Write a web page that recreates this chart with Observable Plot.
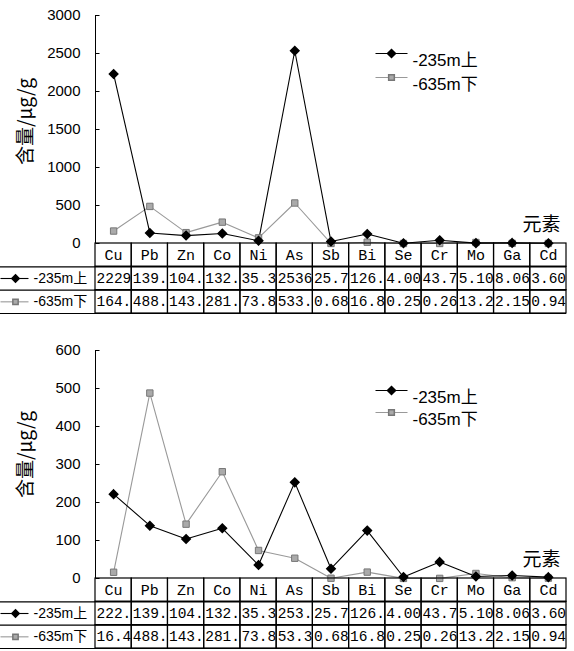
<!DOCTYPE html>
<html>
<head>
<meta charset="utf-8">
<script src="https://cdn.jsdelivr.net/npm/d3@7"></script>
<script src="https://cdn.jsdelivr.net/npm/@observablehq/plot@0.6"></script>
<style>
  html, body { margin: 0; padding: 0; background: #fff; }
  #wrap { width: 574px; height: 651px; overflow: hidden; }
  #wrap svg { display: block; }
</style>
</head>
<body>
<div id="wrap"></div>
<script>
// ---------- data ----------
const elements = ["Cu","Pb","Zn","Co","Ni","As","Sb","Bi","Se","Cr","Mo","Ga","Cd"];
const seriesNames = ["-235m上", "-635m下"];

const top235 = [2229, 139, 104, 132, 35.3, 2536, 25.7, 126, 4.00, 43.7, 5.10, 8.06, 3.60];
const top635 = [164, 488, 143, 281, 73.8, 533, 0.68, 16.8, 0.25, 0.26, 13.2, 2.15, 0.94];
const top235Labels = ["2229","139.","104.","132.","35.3","2536","25.7","126.","4.00","43.7","5.10","8.06","3.60"];
const top635Labels = ["164.","488.","143.","281.","73.8","533.","0.68","16.8","0.25","0.26","13.2","2.15","0.94"];
const topTicks = [0, 500, 1000, 1500, 2000, 2500, 3000];

const bot235 = [222, 139, 104, 132, 35.3, 253, 25.7, 126, 4.00, 43.7, 5.10, 8.06, 3.60];
const bot635 = [16.4, 488, 143, 281, 73.8, 53.3, 0.68, 16.8, 0.25, 0.26, 13.2, 2.15, 0.94];
const bot235Labels = ["222.","139.","104.","132.","35.3","253.","25.7","126.","4.00","43.7","5.10","8.06","3.60"];
const bot635Labels = ["16.4","488.","143.","281.","73.8","53.3","0.68","16.8","0.25","0.26","13.2","2.15","0.94"];
const botTicks = [0, 100, 200, 300, 400, 500, 600];

const yTitle = "含量/μg/g";
const xTitle = "元素";

// ---------- styles ----------
const W = 574, ML = 95, MR = 8;
const colA = "#000", colB = "#999";
const cjk = "'Liberation Sans', 'Noto Sans CJK SC', sans-serif";
const cjkTitle = "'Noto Sans CJK SC', sans-serif";
const mono = "'Liberation Mono', 'Noto Sans CJK SC', monospace";
const xDomain = [-0.5, elements.length - 0.5];
const cellW = (W - ML - MR) / elements.length;
const tableDomain = [xDomain[0] - ML / cellW, xDomain[1]];
const lineSym = { draw(ctx) { ctx.moveTo(-16, 0); ctx.lineTo(16, 0); } };
const rowSym = { draw(ctx) { ctx.moveTo(-14, 0); ctx.lineTo(14, 0); } };
const tickSym = { draw(ctx) { ctx.moveTo(0, 0); ctx.lineTo(4, 0); } };

const wrap = document.getElementById("wrap");

function legendItem(name, color, isA, dy) {
  return [
    Plot.dot([name], {frameAnchor: "top-left", dx: 296, dy, symbol: lineSym, stroke: color, fill: "none", strokeWidth: 1.1}),
    isA
      ? Plot.dot([name], {frameAnchor: "top-left", dx: 296, dy, symbol: "diamond2", r: 3.6, fill: colA, stroke: colA})
      : Plot.dot([name], {frameAnchor: "top-left", dx: 296, dy, symbol: "square", r: 3.2, fill: "#aaa", stroke: "#777"}),
    Plot.text([name], {frameAnchor: "top-left", dx: 317, dy, text: d => d, textAnchor: "start", fontSize: 17, fontFamily: cjk, fill: "#000"})
  ];
}

function chart({a, b, ticks, height, marginTop, legDy1, legDy2, titleDy}) {
  const rows = elements.map((e, i) => ({i, e, a: a[i], b: b[i]}));
  return Plot.plot({
    width: W, height, marginTop, marginBottom: 0, marginLeft: ML, marginRight: MR,
    style: {background: "transparent", overflow: "visible"},
    x: {domain: xDomain, axis: null},
    y: {domain: [ticks[0], ticks[ticks.length - 1]], axis: null},
    marks: [
      Plot.ruleX([xDomain[0]], {stroke: "#000", strokeWidth: 1}),
      Plot.axisY(ticks, {tickSize: 0, tickPadding: 15, tickFormat: d => String(d), fontSize: 15, fontFamily: cjk, fill: "#000", label: null}),
      Plot.dot(ticks, {x: () => xDomain[0], y: d => d, symbol: tickSym, stroke: "#000", fill: "none", strokeWidth: 1}),
      Plot.text([yTitle], {frameAnchor: "left", rotate: -90, dx: -70, dy: titleDy, textAnchor: "middle", fontSize: 19, fontFamily: cjkTitle, fill: "#000"}),
      Plot.lineY(rows, {x: "i", y: "b", stroke: colB, strokeWidth: 1.1}),
      Plot.lineY(rows, {x: "i", y: "a", stroke: colA, strokeWidth: 1.1}),
      Plot.dot(rows, {x: "i", y: "b", symbol: "square", r: 3.6, fill: "#aaa", stroke: "#777", strokeWidth: 1}),
      Plot.dot(rows, {x: "i", y: "a", symbol: "diamond2", r: 3.8, fill: colA, stroke: colA}),
      ...legendItem(seriesNames[0], colA, true, legDy1),
      ...legendItem(seriesNames[1], colB, false, legDy2),
      Plot.text([xTitle], {frameAnchor: "bottom-right", dx: -6, dy: -13, fontSize: 19, fontFamily: cjk, fill: "#000", textAnchor: "end"})
    ]
  });
}

function table({aLabels, bLabels}) {
  const cells = [];
  elements.forEach((e, i) => {
    cells.push({i, r: 0, t: e});
    cells.push({i, r: 1, t: aLabels[i]});
    cells.push({i, r: 2, t: bLabels[i]});
  });
  const rowA = [{r: 1, name: seriesNames[0]}];
  const rowB = [{r: 2, name: seriesNames[1]}];
  return Plot.plot({
    width: W, height: 70, marginTop: 0, marginBottom: 0, marginLeft: 0, marginRight: MR,
    style: {background: "transparent", overflow: "visible"},
    x: {domain: tableDomain, axis: null},
    y: {domain: [0, 3], reverse: true, axis: null},
    marks: [
      Plot.rect(cells, {x1: d => d.i - 0.5, x2: d => d.i + 0.5, y1: "r", y2: d => d.r + 1, stroke: "#000", fill: "none", strokeWidth: 1.2}),
      Plot.ruleY([1, 2, 3], {stroke: "#000", strokeWidth: 1.2}),
      Plot.text(cells.filter(d => d.r === 0), {x: "i", y: d => d.r + 0.5, text: "t", fontSize: 15, fontFamily: mono, fill: "#000"}),
      Plot.text(cells.filter(d => d.r > 0), {x: d => d.i - 0.5, y: d => d.r + 0.5, dx: 1, text: "t", textAnchor: "start", fontSize: 14.5, fontFamily: mono, fill: "#000"}),
      Plot.dot(rowA, {frameAnchor: "left", y: d => d.r + 0.5, dx: 14, symbol: rowSym, stroke: colA, fill: "none", strokeWidth: 1.1}),
      Plot.dot(rowB, {frameAnchor: "left", y: d => d.r + 0.5, dx: 14, symbol: rowSym, stroke: colB, fill: "none", strokeWidth: 1.1}),
      Plot.dot(rowA, {frameAnchor: "left", y: d => d.r + 0.5, dx: 15, symbol: "diamond2", r: 3.3, fill: colA, stroke: colA}),
      Plot.dot(rowB, {frameAnchor: "left", y: d => d.r + 0.5, dx: 15, symbol: "square", r: 3, fill: "#aaa", stroke: "#777"}),
      Plot.text([...rowA, ...rowB], {frameAnchor: "left", y: d => d.r + 0.5, dx: 33, text: "name", textAnchor: "start", fontSize: 14, fontFamily: cjk, fill: "#000"})
    ]
  });
}

wrap.append(chart({a: top235, b: top635, ticks: topTicks, height: 243, marginTop: 15, legDy1: 38, legDy2: 62, titleDy: -8}));
wrap.append(table({aLabels: top235Labels, bLabels: top635Labels}));
const spacer = document.createElement("div"); spacer.style.height = "1px"; wrap.append(spacer);
wrap.append(chart({a: bot235, b: bot635, ticks: botTicks, height: 264, marginTop: 36, legDy1: 40, legDy2: 62, titleDy: -10}));
wrap.append(table({aLabels: bot235Labels, bLabels: bot635Labels}));
</script>
</body>
</html>
